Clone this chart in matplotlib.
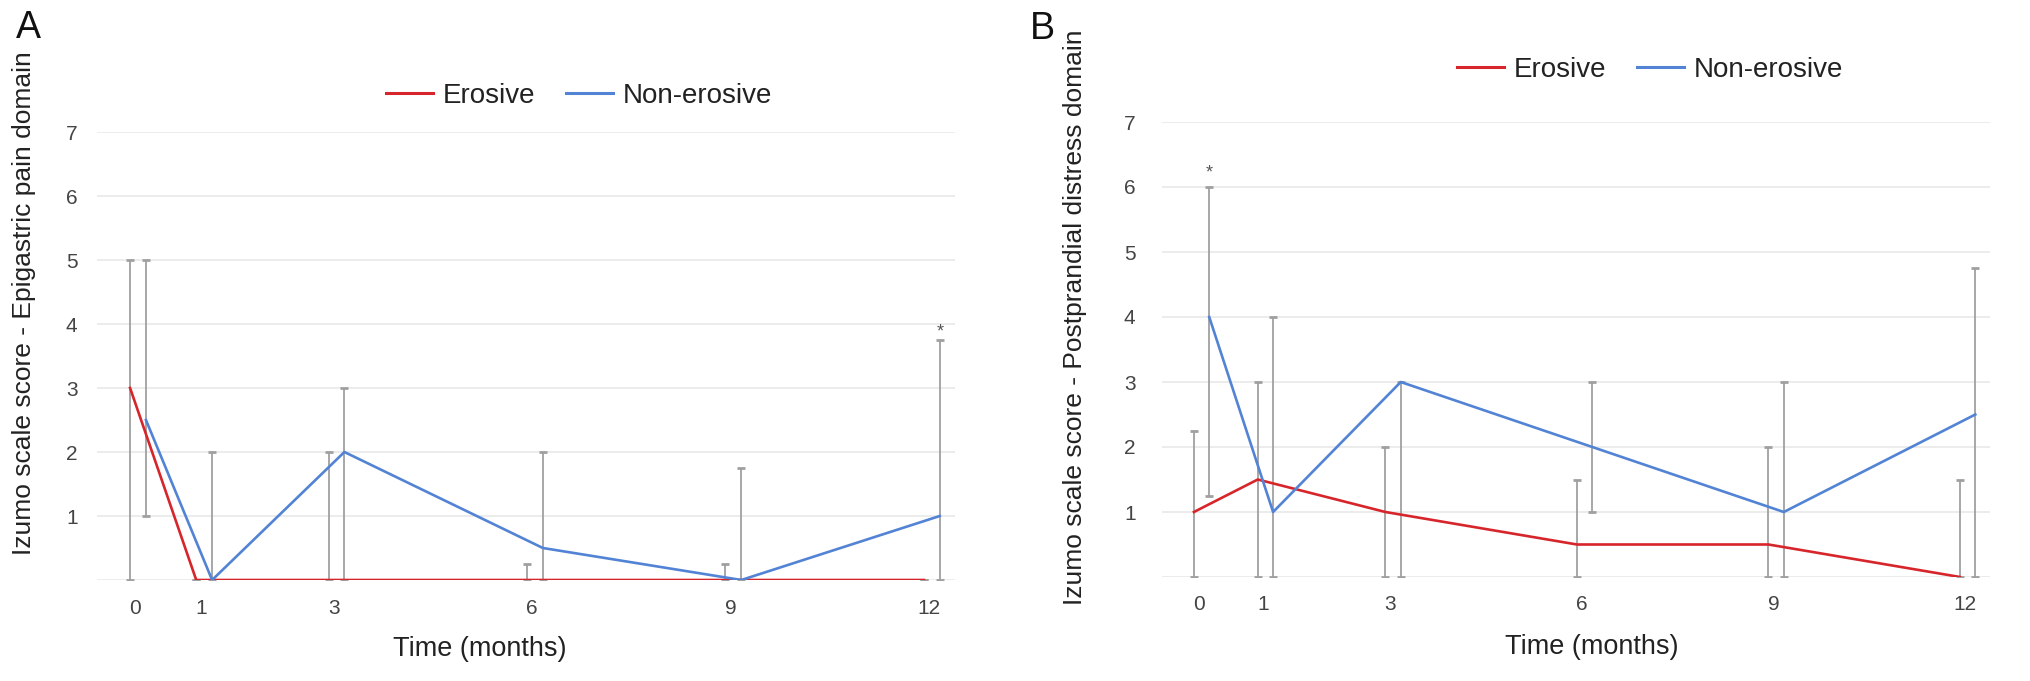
import matplotlib
matplotlib.use("Agg")
import matplotlib.pyplot as plt
from matplotlib.lines import Line2D

plt.rcParams['font.family'] = ['Liberation Sans', 'DejaVu Sans']

# data: medians with min/max whiskers
months = [0, 1, 3, 6, 9, 12]

ero_mid_a = [3, 0, 0, 0, 0, 0]
ero_lo_a = [0, 0, 0, 0, 0, 0]
ero_hi_a = [5, 0, 2, 0.25, 0.25, 0]
non_mid_a = [2.5, 0, 2, 0.5, 0, 1]
non_lo_a = [1, 0, 0, 0, 0, 0]
non_hi_a = [5, 2, 3, 2, 1.75, 3.75]

ero_mid_b = [1, 1.5, 1, 0.5, 0.5, 0]
ero_lo_b = [0, 0, 0, 0, 0, 0]
ero_hi_b = [2.25, 3, 2, 1.5, 2, 1.5]
non_mid_b = [4, 1, 3, 2, 1, 2.5]
non_lo_b = [1.25, 0, 0, 1, 0, 0]
non_hi_b = [6, 4, 3, 3, 3, 4.75]

series_labels = ["Erosive", "Non-erosive"]
ylabel_a = "Izumo scale score - Epigastric pain domain"
ylabel_b = "Izumo scale score - Postprandial distress domain"
xlabel = "Time (months)"

RED = "#d7262b"
BLUE = "#5283d4"
BAR = "#a0a0a0"
CAP = "#555555"
NON_SHIFT = 0.24
TICK_SHIFT = 0.08

W, H = 2031, 681
fig = plt.figure(figsize=(W / 100, H / 100), dpi=100)


def px_axes(left, right, top, bottom):
    return fig.add_axes([left / W, 1 - bottom / H, (right - left) / W, (bottom - top) / H])


def draw_panel(ax, ero, non, star_idx, star_gap, ypad, xpad):
    for (mid, lo, hi), shift, color in ((ero, 0.0, RED), (non, NON_SHIFT, BLUE)):
        xs = [m + shift for m in months]
        err = [[m - l for m, l in zip(mid, lo)], [h - m for m, h in zip(mid, hi)]]
        _, caps, bars = ax.errorbar(xs, mid, yerr=err, fmt="none", ecolor=BAR,
                                    elinewidth=1.3, capsize=3.2, capthick=2.0, zorder=2)
        for c in caps:
            c.set_color(CAP)
        ax.plot(xs, mid, color=color, lw=1.9, zorder=3, solid_joinstyle="round")

    i = star_idx
    ax.text(months[i] + NON_SHIFT, non[2][i] + star_gap, "*", ha="center", va="center",
            fontsize=13, color="#555555", zorder=4)

    ax.set_xlim(-0.5, 12.47)
    ax.set_ylim(0, 7)
    ax.set_yticks(range(0, 8))
    ax.set_yticklabels([""] + [str(v) for v in range(1, 8)])
    ax.set_xticks([m + TICK_SHIFT for m in months])
    ax.set_xticklabels([str(m) for m in months])
    ax.grid(axis="y", color="#ebebeb", lw=1.3, zorder=0)
    ax.tick_params(axis="both", length=0, labelsize=15, colors="#444444")
    ax.tick_params(axis="y", pad=ypad)
    ax.tick_params(axis="x", pad=xpad)
    for s in ax.spines.values():
        s.set_visible(False)


ax_a = px_axes(97, 955, 132, 580)
draw_panel(ax_a, (ero_mid_a, ero_lo_a, ero_hi_a), (non_mid_a, non_lo_a, non_hi_a), 5, 0.13, 14, 14)

ax_b = px_axes(1162, 1990, 122, 577)
draw_panel(ax_b, (ero_mid_b, ero_lo_b, ero_hi_b), (non_mid_b, non_lo_b, non_hi_b), 0, 0.22, 19, 13)

# axis titles and panel letters
fig.text(480 / W, 1 - 649 / H, xlabel, ha="center", va="center", fontsize=19.5, color="#222222")
fig.text(1592 / W, 1 - 647 / H, xlabel, ha="center", va="center", fontsize=19.5, color="#222222")
fig.text(24 / W, 1 - 303 / H, ylabel_a, rotation=90, ha="center", va="center", fontsize=19, color="#222222")
fig.text(1075 / W, 1 - 317 / H, ylabel_b, rotation=90, ha="center", va="center", fontsize=19, color="#222222")
fig.text(28 / W, 1 - 28 / H, "A", ha="center", va="center", fontsize=27, color="#111111")
fig.text(1042 / W, 1 - 29 / H, "B", ha="center", va="center", fontsize=27, color="#111111")

handles = [Line2D([], [], color=RED, lw=2.2), Line2D([], [], color=BLUE, lw=2.2)]
for cx, cy in ((579, 96), (1650, 70)):
    fig.legend(handles, series_labels, loc="center", bbox_to_anchor=(cx / W, 1 - cy / H),
               ncol=2, frameon=False, fontsize=20, handlelength=1.7, handletextpad=0.35,
               columnspacing=1.1, labelcolor="#222222")

fig.savefig("out.png", dpi=100)
plt.close(fig)
